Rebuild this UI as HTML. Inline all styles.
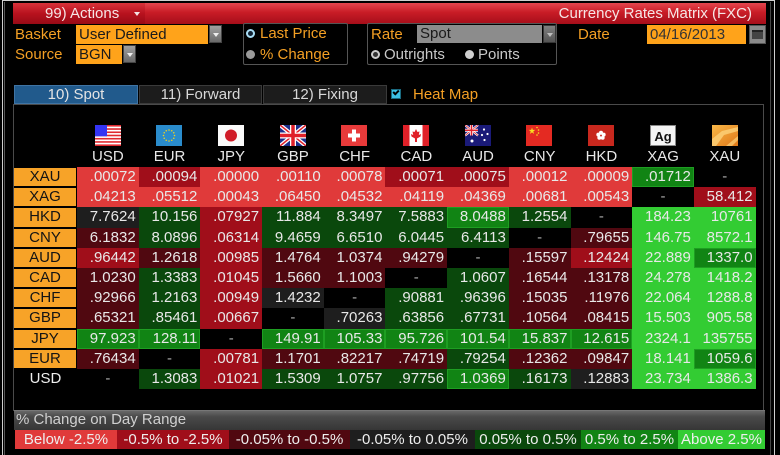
<!DOCTYPE html>
<html><head><meta charset="utf-8"><style>
*{box-sizing:border-box;margin:0;padding:0}
body{width:780px;height:455px;background:#000;position:relative;overflow:hidden;font-family:"Liberation Sans",sans-serif;font-size:15px;color:#ddd}
.a{position:absolute;white-space:nowrap}
.or{color:#f5a024}
.lbl{line-height:19px}
.dd{background:linear-gradient(#a0a0a0,#6a6a6a);border:1px solid #444}
.dd:after{content:"";position:absolute;left:3px;top:7px;border-left:3px solid transparent;border-right:3px solid transparent;border-top:4px solid #eee}
.tab{position:absolute;top:85px;height:19px;line-height:18px;text-align:center;color:#d8d8d8;border:1px solid #3a3a3a;background:#1c1c1c}
#m{position:absolute;left:14px;top:167px;display:grid;grid-template-columns:63px repeat(11,61.7px);grid-auto-rows:20.2px}
#m div{line-height:20px;text-align:right;padding-right:3px;color:#e8e8e8}
#m .L{background:#f7a328;color:#141414;text-align:center;padding:0;margin:1px 1px 1px 0;line-height:18px}
#m .LU{background:#000;color:#eee;text-align:center;padding:0}
.R3{background:#e03a3a}
.R2{background:#a00e1a}
.R1{background:#500810}
.N{background:#1e1e1e}
.G1{background:#0a480c}
.G2{background:#118414;box-shadow:inset 0 0 0 1px #1e9e22}
.G3{background:#33cc33}
#m .B{background:#000;text-align:center;padding:0;color:#aaa}
.fl{position:absolute;top:125px}
.cur{position:absolute;top:148px;width:61.7px;text-align:center;color:#e8e8e8;line-height:18px}
.lg{position:absolute;top:430px;height:19px;line-height:19px;text-align:center;color:#eee}
</style></head><body>
<!-- outer frame lines -->
<div class="a" style="left:2px;top:0;width:1px;height:455px;background:#cfcfcf"></div>
<div class="a" style="left:4px;top:2px;width:1px;height:453px;background:#555"></div>
<div class="a" style="left:2px;top:0;width:773px;height:1px;background:#cfcfcf"></div>
<div class="a" style="left:774px;top:0;width:1px;height:455px;background:#cfcfcf"></div>
<div class="a" style="left:770px;top:2px;width:1px;height:453px;background:#444"></div>

<!-- header bar -->
<div class="a" style="left:13px;top:3px;width:753px;height:21px;background:linear-gradient(#e4464e,#c81c26 45%,#a60e1a)"></div>
<div class="a" style="left:13px;top:3px;width:132px;height:21px;background:linear-gradient(#d8323a,#b8121e 50%,#980a16)"></div>
<div class="a lbl" style="left:45px;top:4px;color:#f6e6e6">99) Actions</div>
<div class="a" style="left:134px;top:12px;border-left:3px solid transparent;border-right:3px solid transparent;border-top:4px solid #f4e4e4"></div>
<div class="a lbl" style="right:28px;top:4px;color:#f6e6e6">Currency Rates Matrix (FXC)</div>

<!-- basket/source -->
<div class="a lbl or" style="left:15px;top:25px">Basket</div>
<div class="a lbl" style="left:76px;top:25px;width:132px;height:19px;background:#ffa31a;color:#1a1a1a;padding-left:3px">User Defined</div>
<div class="a dd" style="left:209px;top:25px;width:13px;height:18px"></div>
<div class="a lbl or" style="left:15px;top:45px">Source</div>
<div class="a lbl" style="left:76px;top:45px;width:46px;height:19px;background:#ffa31a;color:#1a1a1a;padding-left:3px">BGN</div>
<div class="a dd" style="left:123px;top:45px;width:13px;height:18px"></div>

<!-- radio box -->
<div class="a" style="left:243px;top:23px;width:105px;height:42px;border:1px solid #555;border-radius:2px"></div>
<div class="a" style="left:246px;top:29px;width:9px;height:9px;border-radius:50%;border:2px solid #a8dcf4;background:#123"></div>
<div class="a lbl or" style="left:260px;top:24px">Last Price</div>
<div class="a" style="left:246px;top:50px;width:9px;height:9px;border-radius:50%;background:#9a9a9a"></div>
<div class="a lbl or" style="left:260px;top:45px">% Change</div>

<!-- rate box -->
<div class="a" style="left:367px;top:23px;width:190px;height:42px;border:1px solid #555;border-radius:2px"></div>
<div class="a lbl or" style="left:371px;top:25px">Rate</div>
<div class="a lbl" style="left:417px;top:25px;width:125px;height:18px;background:#8c8c8c;color:#1a1a1a;padding-left:3px;line-height:18px">Spot</div>
<div class="a dd" style="left:543px;top:25px;width:13px;height:18px;opacity:.8"></div>
<div class="a" style="left:371px;top:50px;width:9px;height:9px;border-radius:50%;border:2px solid #ccc;background:#333"></div>
<div class="a lbl" style="left:384px;top:45px;color:#c8c8c8">Outrights</div>
<div class="a" style="left:465px;top:50px;width:9px;height:9px;border-radius:50%;background:#cfcfcf"></div>
<div class="a lbl" style="left:478px;top:45px;color:#c8c8c8">Points</div>

<!-- date -->
<div class="a lbl or" style="left:578px;top:25px">Date</div>
<div class="a lbl" style="left:647px;top:25px;width:99px;height:19px;background:#ffa31a;color:#333;padding-left:3px">04/16/2013</div>
<div class="a" style="left:749px;top:25px;width:17px;height:19px;background:#8a8a8a;border:1px solid #555"></div>
<div class="a" style="left:752px;top:30px;width:11px;height:9px;background:#444;border-top:2px solid #222"></div>

<!-- tabs -->
<div class="tab" style="left:14px;width:124px;background:#215a8c;border-color:#3f74a4;color:#e4e4e4">10) Spot</div>
<div class="tab" style="left:139px;width:123px">11) Forward</div>
<div class="tab" style="left:263px;width:124px">12) Fixing</div>
<div class="a" style="left:391px;top:89px;width:10px;height:10px;background:#3cc0e4;border:1px solid #1a6a80"></div>
<div class="a" style="left:393px;top:90px;width:6px;height:4px;border-left:2px solid #000;border-bottom:2px solid #000;transform:rotate(-45deg)"></div>
<div class="a lbl or" style="left:413px;top:85px">Heat Map</div>

<!-- panel -->
<div class="a" style="left:13px;top:104px;width:751px;height:307px;border:1px solid #4a4a4a"></div>

<!-- flags -->
<svg class="fl" style="left:95px" width="26" height="21" viewBox="0 0 26 21"><rect width="26" height="21" fill="#fff"/><g fill="#e0282e"><rect y="0" width="26" height="1.6"/><rect y="3.23" width="26" height="1.6"/><rect y="6.46" width="26" height="1.6"/><rect y="9.69" width="26" height="1.6"/><rect y="12.92" width="26" height="1.6"/><rect y="16.15" width="26" height="1.6"/><rect y="19.4" width="26" height="1.6"/></g><rect width="12" height="11.3" fill="#3434f4"/></svg>
<svg class="fl" style="left:156px" width="26" height="21" viewBox="0 0 26 21"><rect width="26" height="21" fill="#2a8ccc"/><g fill="#f0d020"><circle cx="18.5" cy="10.5" r=".8"/><circle cx="17.76" cy="13.25" r=".8"/><circle cx="15.75" cy="15.26" r=".8"/><circle cx="13" cy="16" r=".8"/><circle cx="10.25" cy="15.26" r=".8"/><circle cx="8.24" cy="13.25" r=".8"/><circle cx="7.5" cy="10.5" r=".8"/><circle cx="8.24" cy="7.75" r=".8"/><circle cx="10.25" cy="5.74" r=".8"/><circle cx="13" cy="5" r=".8"/><circle cx="15.75" cy="5.74" r=".8"/><circle cx="17.76" cy="7.75" r=".8"/></g></svg>
<svg class="fl" style="left:218px" width="26" height="21" viewBox="0 0 26 21"><rect width="26" height="21" fill="#fafafa"/><circle cx="13" cy="10.5" r="6" fill="#d01c28"/></svg>
<svg class="fl" style="left:280px" width="26" height="21" viewBox="0 0 26 21"><rect width="26" height="21" fill="#1b2d8a"/><path d="M0,0 L26,21 M26,0 L0,21" stroke="#fff" stroke-width="4"/><path d="M0,0 L26,21 M26,0 L0,21" stroke="#e0202a" stroke-width="1.5"/><path d="M13,0 V21 M0,10.5 H26" stroke="#fff" stroke-width="6"/><path d="M13,0 V21 M0,10.5 H26" stroke="#e0202a" stroke-width="3.5"/></svg>
<svg class="fl" style="left:341px" width="26" height="21" viewBox="0 0 26 21"><rect width="26" height="21" fill="#e83a3a"/><rect x="11" y="4.5" width="4" height="12" fill="#fff"/><rect x="7" y="8.5" width="12" height="4" fill="#fff"/></svg>
<svg class="fl" style="left:403px" width="26" height="21" viewBox="0 0 26 21"><rect width="26" height="21" fill="#fff"/><rect width="6.5" height="21" fill="#e02028"/><rect x="19.5" width="6.5" height="21" fill="#e02028"/><polygon points="13,4 14.5,7 16.5,6.5 15.8,10 18,9 17.5,11.5 14,13.5 14,17 12,17 12,13.5 8.5,11.5 8,9 10.2,10 9.5,6.5 11.5,7" fill="#e02028"/></svg>
<svg class="fl" style="left:465px" width="26" height="21" viewBox="0 0 26 21"><rect width="26" height="21" fill="#1a1a78"/><path d="M0,0 L13,10.5 M13,0 L0,10.5" stroke="#fff" stroke-width="2.2"/><path d="M0,0 L13,10.5 M13,0 L0,10.5" stroke="#e0202a" stroke-width=".8"/><path d="M6.5,0 V10.5 M0,5.25 H13" stroke="#fff" stroke-width="3"/><path d="M6.5,0 V10.5 M0,5.25 H13" stroke="#e0202a" stroke-width="1.6"/><g fill="#fff"><circle cx="19" cy="4.5" r="1.1"/><circle cx="22.5" cy="9" r="1.1"/><circle cx="17" cy="10" r="1.1"/><circle cx="19.5" cy="15" r="1.1"/><circle cx="7" cy="16" r="1.5"/></g></svg>
<svg class="fl" style="left:526px" width="26" height="21" viewBox="0 0 26 21"><rect width="26" height="21" fill="#e42a22"/><g fill="#f8e020"><polygon points="6,2.5 6.79,4.91 9.33,4.92 7.28,6.42 8.06,8.83 6,7.35 3.94,8.83 4.72,6.42 2.67,4.92 5.21,4.91"/><circle cx="11" cy="2.5" r=".8"/><circle cx="12.5" cy="5" r=".8"/><circle cx="12.5" cy="8" r=".8"/><circle cx="11" cy="10" r=".8"/></g></svg>
<svg class="fl" style="left:588px" width="26" height="21" viewBox="0 0 26 21"><rect width="26" height="21" fill="#c8281e"/><g fill="#fff"><circle cx="13" cy="7.7" r="2"/><circle cx="15.66" cy="9.63" r="2"/><circle cx="14.65" cy="12.77" r="2"/><circle cx="11.35" cy="12.77" r="2"/><circle cx="10.34" cy="9.63" r="2"/></g><circle cx="13" cy="10.7" r=".8" fill="#c8281e"/></svg>
<svg class="fl" style="left:650px" width="26" height="21" viewBox="0 0 26 21"><rect x=".5" y=".5" width="25" height="20" fill="#f4f4f4" stroke="#888"/><text x="13" y="16" text-anchor="middle" font-family="Liberation Sans, sans-serif" font-weight="bold" font-size="13" fill="#111">Ag</text></svg>
<svg class="fl" style="left:712px" width="26" height="21" viewBox="0 0 26 21"><defs><linearGradient id="gd" x1="0" y1="0" x2="1" y2="1"><stop offset="0" stop-color="#f8b848"/><stop offset="1" stop-color="#e07818"/></linearGradient></defs><rect width="26" height="21" fill="url(#gd)"/><polygon points="0,14 10,6 26,2 26,6 12,10 4,21 0,21" fill="#fcd27a" opacity=".8"/><polygon points="14,21 26,11 26,15 20,21" fill="#fcd27a" opacity=".7"/></svg>

<!-- currency header labels -->
<div class="cur" style="left:77px">USD</div>
<div class="cur" style="left:138.7px">EUR</div>
<div class="cur" style="left:200.4px">JPY</div>
<div class="cur" style="left:262.1px">GBP</div>
<div class="cur" style="left:323.8px">CHF</div>
<div class="cur" style="left:385.5px">CAD</div>
<div class="cur" style="left:447.2px">AUD</div>
<div class="cur" style="left:508.9px">CNY</div>
<div class="cur" style="left:570.6px">HKD</div>
<div class="cur" style="left:632.3px">XAG</div>
<div class="cur" style="left:694px">XAU</div>

<!-- matrix -->
<div id="m">
<div class="L">XAU</div><div class="R3">.00072</div><div class="R2">.00094</div><div class="R3">.00000</div><div class="R3">.00110</div><div class="R3">.00078</div><div class="R2">.00071</div><div class="R2">.00075</div><div class="R3">.00012</div><div class="R3">.00009</div><div class="G2">.01712</div><div class="B">-</div>
<div class="L">XAG</div><div class="R3">.04213</div><div class="R3">.05512</div><div class="R3">.00043</div><div class="R3">.06450</div><div class="R3">.04532</div><div class="R3">.04119</div><div class="R3">.04369</div><div class="R3">.00681</div><div class="R3">.00543</div><div class="B">-</div><div class="R2">58.412</div>
<div class="L">HKD</div><div class="N">7.7624</div><div class="G1">10.156</div><div class="R2">.07927</div><div class="G1">11.884</div><div class="G1">8.3497</div><div class="G1">7.5883</div><div class="G2">8.0488</div><div class="G1">1.2554</div><div class="B">-</div><div class="G3">184.23</div><div class="G3">10761</div>
<div class="L">CNY</div><div class="R1">6.1832</div><div class="G1">8.0896</div><div class="R2">.06314</div><div class="G1">9.4659</div><div class="G1">6.6510</div><div class="G1">6.0445</div><div class="G1">6.4113</div><div class="B">-</div><div class="R1">.79655</div><div class="G3">146.75</div><div class="G3">8572.1</div>
<div class="L">AUD</div><div class="R2">.96442</div><div class="R1">1.2618</div><div class="R2">.00985</div><div class="R1">1.4764</div><div class="R1">1.0374</div><div class="R1">.94279</div><div class="B">-</div><div class="R1">.15597</div><div class="R2">.12424</div><div class="G3">22.889</div><div class="G2">1337.0</div>
<div class="L">CAD</div><div class="R1">1.0230</div><div class="G1">1.3383</div><div class="R2">.01045</div><div class="R1">1.5660</div><div class="R1">1.1003</div><div class="B">-</div><div class="G1">1.0607</div><div class="R1">.16544</div><div class="R1">.13178</div><div class="G3">24.278</div><div class="G3">1418.2</div>
<div class="L">CHF</div><div class="R1">.92966</div><div class="G1">1.2163</div><div class="R2">.00949</div><div class="N">1.4232</div><div class="B">-</div><div class="G1">.90881</div><div class="G1">.96396</div><div class="R1">.15035</div><div class="R1">.11976</div><div class="G3">22.064</div><div class="G3">1288.8</div>
<div class="L">GBP</div><div class="R1">.65321</div><div class="G1">.85461</div><div class="R2">.00667</div><div class="B">-</div><div class="N">.70263</div><div class="G1">.63856</div><div class="G1">.67731</div><div class="R1">.10564</div><div class="R1">.08415</div><div class="G3">15.503</div><div class="G3">905.58</div>
<div class="L">JPY</div><div class="G2">97.923</div><div class="G2">128.11</div><div class="B">-</div><div class="G2">149.91</div><div class="G2">105.33</div><div class="G2">95.726</div><div class="G2">101.54</div><div class="G2">15.837</div><div class="G2">12.615</div><div class="G3">2324.1</div><div class="G3">135755</div>
<div class="L">EUR</div><div class="R1">.76434</div><div class="B">-</div><div class="R2">.00781</div><div class="R1">1.1701</div><div class="R1">.82217</div><div class="R1">.74719</div><div class="G1">.79254</div><div class="R1">.12362</div><div class="R1">.09847</div><div class="G3">18.141</div><div class="G2">1059.6</div>
<div class="LU">USD</div><div class="B">-</div><div class="G1">1.3083</div><div class="R2">.01021</div><div class="G1">1.5309</div><div class="G1">1.0757</div><div class="G1">.97756</div><div class="G2">1.0369</div><div class="G1">.16173</div><div class="N">.12883</div><div class="G3">23.734</div><div class="G3">1386.3</div>
</div>

<!-- legend -->
<div class="a" style="left:14px;top:410px;width:751px;height:20px;background:linear-gradient(#686868,#4a4a4a 30%,#363636);border-top:1px solid #777"></div>
<div class="a" style="left:16px;top:410px;line-height:20px;color:#d0d0d0">% Change on Day Range</div>
<div class="lg R3" style="left:15px;width:102px">Below -2.5%</div>
<div class="lg R2" style="left:117px;width:112px">-0.5% to -2.5%</div>
<div class="lg R1" style="left:229px;width:121px">-0.05% to -0.5%</div>
<div class="lg N" style="left:350px;width:125px">-0.05% to 0.05%</div>
<div class="lg G1" style="left:475px;width:106px">0.05% to 0.5%</div>
<div class="lg" style="left:581px;width:97px;background:#118414">0.5% to 2.5%</div>
<div class="lg G3" style="left:678px;width:87px">Above 2.5%</div>
</body></html>
